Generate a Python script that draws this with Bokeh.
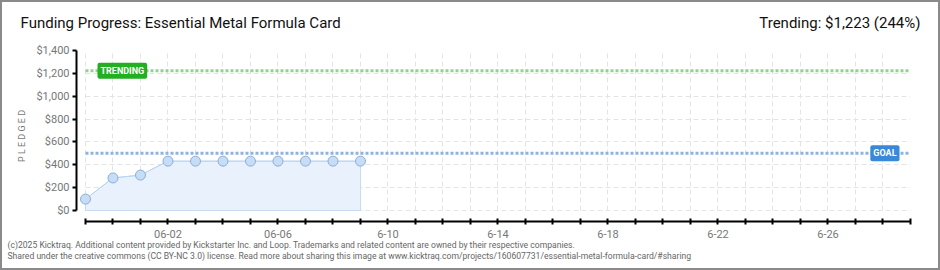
from bokeh.plotting import figure
from bokeh.models import (Range1d, FixedTicker, SingleIntervalTicker, NumeralTickFormatter,
                          Label, ColumnDataSource, Column)
from bokeh.embed import file_html
from bokeh.resources import INLINE

# ---- data ----
dates = ["05-30", "05-31", "06-01", "06-02", "06-03", "06-04", "06-05",
         "06-06", "06-07", "06-08", "06-09"]
day_index = [0, 1, 2, 3, 4, 5, 6, 7, 8, 9, 10]
pledged = [100, 285, 310, 432, 432, 432, 432, 432, 432, 432, 432]
goal = 500
trending = 1223
trending_pct = 244
axis_days = list(range(0, 31))          # 05-30 .. 06-29
tick_label_days = [3, 7, 11, 15, 19, 23, 27]
tick_labels = ["06-02", "06-06", "6-10", "6-14", "6-18", "6-22", "6-26"]
title_text = "Funding Progress: Essential Metal Formula Card"
footer1 = ("(c)2025 Kicktraq. Additional content provided by Kickstarter Inc. and Loop. "
           "Trademarks and related content are owned by their respective companies.")
footer2 = ("Shared under the creative commons (CC BY-NC 3.0) license. Read more about sharing "
           "this image at www.kicktraq.com/projects/160607731/essential-metal-formula-card/#sharing")

FONT = "Roboto"

p = figure(width=936, height=266, output_backend="svg", toolbar_location=None,
           x_range=Range1d(-0.327, 30.0), y_range=Range1d(-96, 1400),
           min_border_left=74, min_border_right=28, min_border_top=48, min_border_bottom=47)
p.outline_line_color = None
p.background_fill_color = "white"
p.border_fill_color = "white"

# grids
p.xgrid.ticker = FixedTicker(ticks=axis_days)
p.xgrid.grid_line_color = "#e4e4e4"
p.xgrid.grid_line_dash = "5 3"
p.ygrid.grid_line_color = "#e4e4e4"
p.ygrid.grid_line_dash = "5 3"
try:
    p.xgrid.cross_bounds = (0, 1400)
    p.ygrid.cross_bounds = (0, 30)
except Exception:
    pass

# y axis
ya = p.yaxis[0]
ya.ticker = SingleIntervalTicker(interval=200, num_minor_ticks=2)
p.ygrid.ticker = SingleIntervalTicker(interval=200)
ya.formatter = NumeralTickFormatter(format="$0,0")
ya.bounds = (0, 1400)
ya.axis_line_color = "#000000"
ya.axis_line_width = 2
ya.major_tick_line_color = "#000000"
ya.major_tick_line_width = 2
ya.major_tick_out = 4
ya.major_tick_in = 0
ya.minor_tick_line_color = None
ya.major_label_text_font = FONT
ya.major_label_text_font_size = "11px"
ya.major_label_text_color = "#777777"
ya.major_label_standoff = 3
ya.axis_label = "P L E D G E D"
ya.axis_label_text_font = FONT
ya.axis_label_text_font_size = "9px"
ya.axis_label_text_font_style = "normal"
ya.axis_label_text_color = "#777777"
ya.axis_label_standoff = 6

# x axis
xa = p.xaxis[0]
xa.ticker = FixedTicker(ticks=axis_days)
xa.major_label_overrides = {d: "" for d in axis_days}
xa.major_label_overrides.update({d: t for d, t in zip(tick_label_days, tick_labels)})
xa.bounds = (0, 30)
xa.axis_line_color = "black"
xa.axis_line_width = 2
xa.major_tick_line_color = "black"
xa.major_tick_line_width = 2
xa.major_tick_out = 3
xa.major_tick_in = 3
xa.minor_tick_line_color = None
xa.major_label_text_font = FONT
xa.major_label_text_font_size = "11px"
xa.major_label_text_color = "#777777"
xa.major_label_standoff = 5

# goal / trending lines
p.line([0, 30], [trending, trending], line_color="#8fd48f", line_width=3, line_dash="3 2")
p.line([0, 30], [goal, goal], line_color="#8fb2df", line_width=3, line_dash="3 2")

# area + line + points
src = ColumnDataSource(dict(x=day_index, y=pledged, date=dates))
p.patch(day_index + day_index[::-1], pledged + [0] * len(pledged),
        fill_color="#e9f2fc", fill_alpha=1.0, line_color="#c5dcf3", line_width=1)
p.line("x", "y", source=src, line_color="#b8d4f0", line_width=1)
p.scatter("x", "y", source=src, size=10, fill_color="#c6ddf7", line_color="#8eaed3", line_width=1)

# labels on lines
p.add_layout(Label(x=0, y=trending, x_offset=12, text="TRENDING", text_align="left",
                   text_baseline="middle", text_color="white", text_font=FONT,
                   text_font_size="9px", text_font_style="bold",
                   background_fill_color="#22b022", padding=3, border_radius=2))
p.add_layout(Label(x=30, y=goal, x_offset=-11, text="GOAL", text_align="right",
                   text_baseline="middle", text_color="white", text_font=FONT,
                   text_font_size="9px", text_font_style="bold",
                   background_fill_color="#3a88d8", padding=3, border_radius=2))

# header / footer texts (screen units within the stacked side panels)
def mk(text, x, y, align, size, color):
    return Label(x=x, y=y, x_units="screen", y_units="screen", text=text, text_font=FONT,
                 text_font_size=size, text_color=color, text_baseline="middle",
                 text_align=align)

p.add_layout(mk(title_text, -56, 28, "left", "15px", "#111111"), "above")
p.add_layout(mk(f"Trending: ${trending:,} ({trending_pct}%)", 844, 10, "right", "15px",
                "#111111"), "above")
p.add_layout(mk(footer1, -69, 6, "left", "8.6px", "#666666"), "below")
p.add_layout(mk(footer2, -69, 5, "left", "8.6px", "#666666"), "below")

layout = Column(p, styles={"border": "2px solid #8a8a8a"})
open("out.html", "w").write(file_html(layout, INLINE))
